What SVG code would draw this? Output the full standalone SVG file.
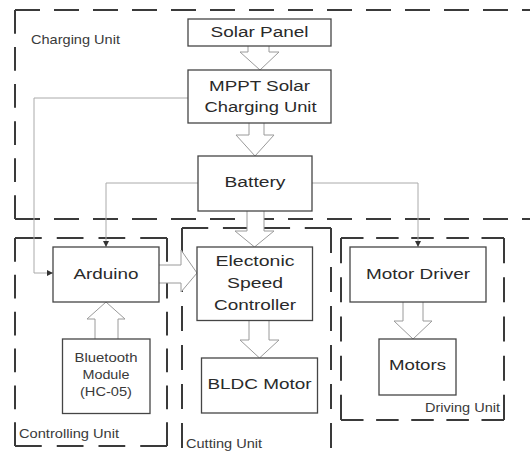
<svg xmlns="http://www.w3.org/2000/svg" width="530" height="456" viewBox="0 0 530 456">
<defs>
<style>
.bg{fill:#fff}
.node{fill:#fff;stroke:#454545;stroke-width:1.3}
.t{font-family:"Liberation Sans",Arial,sans-serif;font-size:15.5px;fill:#2a2a2a;text-anchor:middle}
.s{font-family:"Liberation Sans",Arial,sans-serif;font-size:13px;fill:#3a3a3a}
.sm{text-anchor:middle}
.dash{fill:none;stroke:#3a3a3a;stroke-width:2;stroke-dasharray:25 14}
.line{fill:none;stroke:#aaa;stroke-width:1}
.hollow{fill:#fff;stroke:#9a9a9a;stroke-width:1;stroke-linejoin:miter}
</style>
<marker id="tip" viewBox="0 0 6 6" refX="6" refY="3" markerWidth="6" markerHeight="6" orient="auto" markerUnits="userSpaceOnUse">
<path d="M0,0 L6,3 L0,6 Z" fill="#333"/>
</marker>
</defs>
<rect class="bg" x="0" y="0" width="530" height="456"/>

<g id="groups">
<g id="charging-unit">
<line class="dash" x1="15" y1="10" x2="530" y2="10"/>
<line class="dash" x1="15" y1="10" x2="15" y2="219" pathLength="220"/>
<line class="dash" x1="15" y1="219" x2="530" y2="219"/>
<text class="s" x="31" y="44" textLength="89" lengthAdjust="spacingAndGlyphs">Charging Unit</text>
</g>
<g id="controlling-unit">
<line class="dash" x1="15" y1="238" x2="167" y2="238" pathLength="142"/>
<line class="dash" x1="15" y1="238" x2="15" y2="446" pathLength="220"/>
<line class="dash" x1="167" y1="446" x2="167" y2="238" pathLength="220"/>
<line class="dash" x1="167" y1="446" x2="15" y2="446" pathLength="142"/>
<text class="s" x="19" y="438" textLength="100" lengthAdjust="spacingAndGlyphs">Controlling Unit</text>
</g>
<g id="cutting-unit">
<line class="dash" x1="182" y1="228" x2="331" y2="228" pathLength="142"/>
<line class="dash" x1="182" y1="228" x2="182" y2="460"/>
<line class="dash" x1="331" y1="228" x2="331" y2="460"/>
<text class="s" x="186" y="448" textLength="76" lengthAdjust="spacingAndGlyphs">Cutting Unit</text>
</g>
<g id="driving-unit">
<line class="dash" x1="341" y1="238" x2="504" y2="238" pathLength="181"/>
<line class="dash" x1="341" y1="238" x2="341" y2="420" pathLength="181"/>
<line class="dash" x1="504" y1="420" x2="504" y2="238" pathLength="181"/>
<line class="dash" x1="504" y1="420" x2="341" y2="420" pathLength="181"/>
<text class="s" x="425" y="411.5" textLength="75" lengthAdjust="spacingAndGlyphs">Driving Unit</text>
</g>
</g>

<g id="connectors">
<polyline class="line" points="188,98 34,98 34,273 53,273" marker-end="url(#tip)"/>
<polyline class="line" points="198,183 106,183 106,247" marker-end="url(#tip)"/>
<polyline class="line" points="312,183 418,183 418,247" marker-end="url(#tip)"/>
<path class="hollow" d="M248,46 V52 H240 L260,70 L279,52 H269 V46"/>
<path class="hollow" d="M249,123 V135 H236 L255,156 L274,135 H264 V123"/>
<path class="hollow" d="M247,211 V231 H235 L254.5,247 L274,231 H264 V211"/>
<path class="hollow" d="M159,265 H181 V250 L197,273 L181,292 V283 H159"/>
<path class="hollow" d="M95,339 V319 H87 L106,302 L125,319 H118 V339"/>
<path class="hollow" d="M249,321 V340 H240 L259.5,358 L279,340 H269 V321"/>
<path class="hollow" d="M403,302 V321 H394 L413,339 L432,321 H423 V302"/>
</g>

<g id="solar-panel">
<rect class="node" x="188" y="19" width="143" height="27"/>
<text class="t" x="259.5" y="37" textLength="98" lengthAdjust="spacingAndGlyphs">Solar Panel</text>
</g>
<g id="mppt">
<rect class="node" x="188" y="70" width="143" height="53"/>
<text class="t" x="259.5" y="91" textLength="101" lengthAdjust="spacingAndGlyphs">MPPT Solar</text>
<text class="t" x="260.5" y="112" textLength="112" lengthAdjust="spacingAndGlyphs">Charging Unit</text>
</g>
<g id="battery">
<rect class="node" x="198" y="156" width="114" height="55"/>
<text class="t" x="255" y="187" textLength="61" lengthAdjust="spacingAndGlyphs">Battery</text>
</g>
<g id="arduino">
<rect class="node" x="53" y="247" width="106" height="55"/>
<text class="t" x="106" y="279" textLength="65" lengthAdjust="spacingAndGlyphs">Arduino</text>
</g>
<g id="bluetooth">
<rect class="node" x="62.5" y="339" width="87.5" height="74.5"/>
<text class="s sm" x="106" y="362" textLength="63" lengthAdjust="spacingAndGlyphs">Bluetooth</text>
<text class="s sm" x="106" y="379" textLength="47" lengthAdjust="spacingAndGlyphs">Module</text>
<text class="s sm" x="106" y="395.5" textLength="52" lengthAdjust="spacingAndGlyphs">(HC-05)</text>
</g>
<g id="esc">
<rect class="node" x="197" y="247" width="115.5" height="73.5"/>
<text class="t" x="255" y="265.5" textLength="79" lengthAdjust="spacingAndGlyphs">Electonic</text>
<text class="t" x="255" y="287.5" textLength="56" lengthAdjust="spacingAndGlyphs">Speed</text>
<text class="t" x="255" y="309.5" textLength="82" lengthAdjust="spacingAndGlyphs">Controller</text>
</g>
<g id="bldc-motor">
<rect class="node" x="201.5" y="358" width="116" height="55"/>
<text class="t" x="259.5" y="389" textLength="104" lengthAdjust="spacingAndGlyphs">BLDC Motor</text>
</g>
<g id="motor-driver">
<rect class="node" x="350" y="247" width="136" height="55"/>
<text class="t" x="418" y="279" textLength="104" lengthAdjust="spacingAndGlyphs">Motor Driver</text>
</g>
<g id="motors">
<rect class="node" x="379" y="339" width="77" height="56"/>
<text class="t" x="417.5" y="370" textLength="57" lengthAdjust="spacingAndGlyphs">Motors</text>
</g>
</svg>
